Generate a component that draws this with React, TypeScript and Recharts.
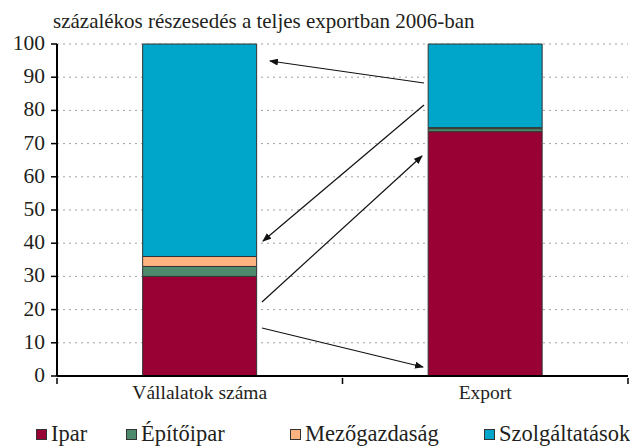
import React from 'react';
import { BarChart, Bar, XAxis, YAxis, CartesianGrid } from 'recharts';

const categories = ['Vállalatok száma', 'Export'];
const ipar = [30, 73.6];
const epitoipar = [3, 0.9];
const mezogazdasag = [3, 0.3];
const szolgaltatasok = [64, 25.2];
const yTicks = [0, 10, 20, 30, 40, 50, 60, 70, 80, 90, 100];
const seriesNames = ['Ipar', 'Építőipar', 'Mezőgazdaság', 'Szolgáltatások'];
const colors = ['#990033', '#4E8A6E', '#FFB380', '#00A6C9'];
const title = 'százalékos részesedés a teljes exportban 2006-ban';

const data = categories.map((c, i) => ({
  name: c,
  ipar: ipar[i],
  epitoipar: epitoipar[i],
  mezogazdasag: mezogazdasag[i],
  szolgaltatasok: szolgaltatasok[i],
}));
const keys = ['ipar', 'epitoipar', 'mezogazdasag', 'szolgaltatasok'];

const FONT = 'Liberation Serif';
const TEXT = '#231f20';

const XTick = (props: any) => {
  const { x, y, payload, index } = props;
  const off = payload && payload.offset != null ? payload.offset : 142.75;
  return (
    <g>
      <line x1={x - off} x2={x - off} y1={y - 6} y2={y} stroke="#000" strokeWidth={1.5} />
      {index === categories.length - 1 && (
        <line x1={x + off} x2={x + off} y1={y - 6} y2={y} stroke="#000" strokeWidth={1.5} />
      )}
      <text x={x} y={y + 15} textAnchor="middle" style={{ fontFamily: FONT, fontSize: 19.5 }} fill={TEXT}>
        {payload.value}
      </text>
    </g>
  );
};

const YTick = (props: any) => {
  const { x, y, payload } = props;
  return (
    <text x={x} y={y + 6} textAnchor="end" style={{ fontFamily: FONT, fontSize: 21.5 }} fill={TEXT}>
      {payload.value}
    </text>
  );
};

const Overlay = () => (
  <svg width={630} height={448} style={{ position: 'absolute', left: 0, top: 0, pointerEvents: 'none' }}>
    <defs>
      <marker id="ah" markerWidth="9" markerHeight="7" refX="8" refY="3.5" orient="auto" markerUnits="userSpaceOnUse">
        <path d="M0,0 L9,3.5 L0,7 z" fill="#111" />
      </marker>
    </defs>
    <text x={53} y={28} style={{ fontFamily: FONT, fontSize: 21 }} fill={TEXT}>{title}</text>
    <line x1={424} y1={83} x2={270} y2={61} stroke="#111" strokeWidth={1.2} markerEnd="url(#ah)" />
    <line x1={424} y1={105} x2={263} y2={241} stroke="#111" strokeWidth={1.2} markerEnd="url(#ah)" />
    <line x1={262} y1={302} x2={422} y2={156} stroke="#111" strokeWidth={1.2} markerEnd="url(#ah)" />
    <line x1={262} y1={328} x2={423} y2={367} stroke="#111" strokeWidth={1.2} markerEnd="url(#ah)" />
  </svg>
);

const LegendBox = () => {
  const xs = [36, 126, 290, 484];
  return (
    <div style={{ position: 'absolute', left: 0, top: 420, width: 630, height: 28, fontFamily: FONT, fontSize: 22.5, color: TEXT }}>
      {seriesNames.map((n, i) => (
        <div key={n} style={{ position: 'absolute', left: xs[i], top: 0, display: 'flex', alignItems: 'center', whiteSpace: 'nowrap', lineHeight: '28px' }}>
          <span style={{ display: 'inline-block', width: 9, height: 9, background: colors[i], border: '1px solid #333', marginRight: 4 }} />
          <span>{n}</span>
        </div>
      ))}
    </div>
  );
};

export default function App() {
  return (
    <div style={{ position: 'absolute', left: 0, top: 0, width: 630, height: 448, background: '#fff' }}>
      <BarChart
        width={630}
        height={448}
        data={data}
        margin={{ top: 44, right: 2, left: 0, bottom: 0 }}
        barCategoryGap="30%"
      >
        <CartesianGrid vertical={false} stroke="#a0a0a0" strokeDasharray="2 4" />
        <XAxis
          dataKey="name"
          height={72}
          tickLine={false}
          axisLine={{ stroke: '#000', strokeWidth: 2 }}
          tick={<XTick />}
          interval={0}
        />
        <YAxis
          width={57}
          domain={[0, 100]}
          ticks={yTicks}
          interval={0}
          tickSize={6}
          tickLine={{ stroke: '#000', strokeWidth: 1.5 }}
          axisLine={{ stroke: '#000', strokeWidth: 2 }}
          tick={<YTick />}
          tickMargin={6}
        />
        {keys.map((k, i) => (
          <Bar key={k} dataKey={k} stackId="a" fill={colors[i]} stroke="#333" strokeWidth={1} isAnimationActive={false} />
        ))}
      </BarChart>
      <Overlay />
      <LegendBox />
    </div>
  );
}
